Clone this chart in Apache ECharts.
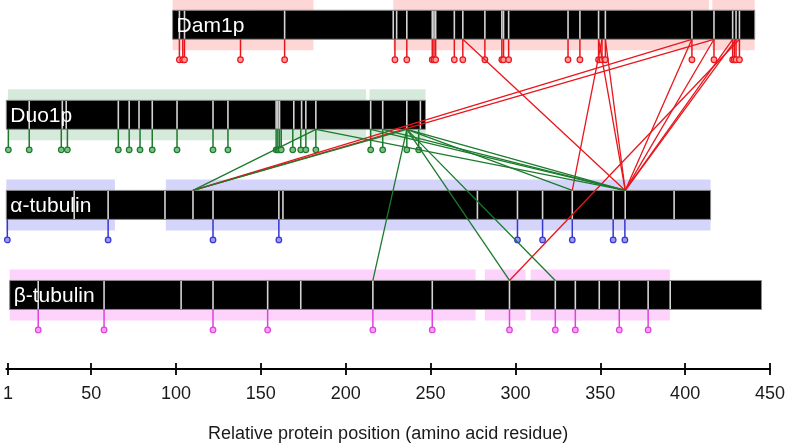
<!DOCTYPE html>
<html><head><meta charset="utf-8">
<script src="https://cdn.jsdelivr.net/npm/echarts@6/dist/echarts.min.js"></script>
<style>html,body{margin:0;padding:0;background:#fff}#c{width:788px;height:448px}</style>
</head><body><div id="c"></div><script>
// ---------- data (residue positions on the relative axis) ----------
const proteins = ['Dam1p', 'Duo1p', 'α-tubulin', 'β-tubulin'];
const proteinStart = [98, 0, 0, 2];
const proteinEnd = [441, 247, 415, 445];

const dam1Regions = [[98, 181], [228, 414], [416, 441]];
const duo1Regions = [[1, 212], [214, 247]];
const tubARegions = [[0, 64], [94, 415]];
const tubBRegions = [[2, 276.5], [282, 306], [309, 391]];

const dam1Sites = [102, 105, 164, 228, 230, 236, 251, 252, 253, 264, 269, 282, 292, 293, 296, 331, 338, 349, 353, 404, 417, 428, 430, 432];
const dam1Stems = [102, 104, 105, 138, 164, 229, 236, 251, 252, 253, 264, 269, 282, 292, 293, 296, 331, 338, 349, 351, 353, 404, 417, 428, 429, 430, 432];
const duo1Sites = [13.5, 33, 35.3, 66, 72.4, 78.2, 86, 100.6, 121.8, 130.6, 159, 160, 161, 169.4, 174, 176.5, 182.4, 214.7, 221.8, 236, 244];
const duo1Stems = [1.2, 13.5, 32.4, 36, 66, 72.4, 78.8, 86, 100.6, 121.8, 130.6, 159, 160, 161, 162, 168.8, 173.5, 176.5, 182.4, 214.7, 221.8, 236, 243];
const tubASites = [40, 60, 93.5, 110, 121.8, 160.6, 163, 277.6, 301.2, 316, 333.5, 357.6, 364.7, 393.5];
const tubAStems = [0.6, 60, 121.8, 160.6, 301.2, 316, 333.5, 357.6, 364.5];
const tubBSites = [18.8, 57.6, 103, 121.8, 154, 173.5, 216, 251, 296.5, 323.5, 335.3, 349.4, 361.2, 378.2, 391.2];
const tubBStems = [18.8, 57.6, 121.8, 154, 216, 251, 296.5, 323.5, 335.3, 361.2, 378.2];

// crosslinks: [source residue, target protein, target residue]
const dam1Links = [
  [404, 'α-tubulin', 110], [417, 'α-tubulin', 110],
  [269, 'α-tubulin', 364.7], [349, 'α-tubulin', 364.7], [353, 'α-tubulin', 364.7],
  [351, 'α-tubulin', 333.5],
  [404, 'α-tubulin', 364.7], [417, 'α-tubulin', 364.7], [428, 'α-tubulin', 364.7], [430, 'α-tubulin', 364.7],
  [432, 'β-tubulin', 296.5]
];
const duo1Links = [
  [182.4, 'α-tubulin', 110], [236, 'α-tubulin', 110],
  [182.4, 'α-tubulin', 364.7], [214.7, 'α-tubulin', 364.7], [221.8, 'α-tubulin', 364.7], [236, 'α-tubulin', 364.7],
  [236, 'α-tubulin', 333.5],
  [236, 'β-tubulin', 216], [236, 'β-tubulin', 296.5], [236, 'β-tubulin', 323.5]
];

const tickValues = [1, 50, 100, 150, 200, 250, 300, 350, 400, 450];
const axisTitle = 'Relative protein position (amino acid residue)';

// ---------- styles ----------
const FONT = "'Liberation Sans', Arial, Helvetica, sans-serif";
const mainColor = ['#e8161c', '#1b7a2c', '#3636d2', '#e040de'];
const dotFill = ['#ff9a9a', '#7fc08a', '#9a9af0', '#f7a0f5'];
const bgColor = ['#ffd6d6', '#d6eadb', '#d5d5fb', '#fdd2fb'];
const BAR_H = 14.5, BG_H = 25.5, STEM_END = 35, DOT_R = 2.8;

// ---------- build series data ----------
const regionSets = [dam1Regions, duo1Regions, tubARegions, tubBRegions];
const siteSets = [dam1Sites, duo1Sites, tubASites, tubBSites];
const stemSets = [dam1Stems, duo1Stems, tubAStems, tubBStems];
const bgData = [], barData = [], siteData = [], stemData = [], redData = [], greenData = [];
proteins.forEach((p, i) => {
  regionSets[i].forEach(r => bgData.push([i, r[0], r[1]]));
  barData.push([i, proteinStart[i], proteinEnd[i]]);
  siteSets[i].forEach(s => siteData.push([i, s]));
  stemSets[i].forEach(s => stemData.push([i, s]));
});
dam1Links.forEach(l => redData.push([0, l[0], proteins.indexOf(l[1]), l[2]]));
duo1Links.forEach(l => greenData.push([1, l[0], proteins.indexOf(l[1]), l[2]]));

function renderBg(params, api) {
  const t = api.value(0);
  const a = api.coord([api.value(1), t]), b = api.coord([api.value(2), t]);
  return { type: 'rect', shape: { x: a[0], y: a[1] - BG_H, width: b[0] - a[0], height: 2 * BG_H },
    style: { fill: bgColor[t] } };
}
function renderBar(params, api) {
  const t = api.value(0);
  const a = api.coord([api.value(1), t]), b = api.coord([api.value(2), t]);
  return { type: 'rect', shape: { x: a[0], y: a[1] - BAR_H, width: b[0] - a[0], height: 2 * BAR_H },
    style: { fill: '#000', stroke: '#8a8a8a', lineWidth: 1 } };
}
function renderSite(params, api) {
  const t = api.value(0);
  const a = api.coord([api.value(1), t]);
  return { type: 'line', shape: { x1: a[0], y1: a[1] - BAR_H + 0.5, x2: a[0], y2: a[1] + BAR_H - 0.5 },
    style: { stroke: '#d4d4d4', lineWidth: 1.6 } };
}
function renderLabel(params, api) {
  const t = api.value(0);
  const a = api.coord([api.value(1), t]);
  return { type: 'text', x: a[0] + 4, y: a[1] + 1,
    style: { text: proteins[t], fill: '#fff', font: '21px ' + FONT, verticalAlign: 'middle', align: 'left' } };
}
function renderStem(params, api) {
  const t = api.value(0);
  const a = api.coord([api.value(1), t]);
  return { type: 'group', children: [
    { type: 'line', shape: { x1: a[0], y1: a[1] + BAR_H, x2: a[0], y2: a[1] + STEM_END },
      style: { stroke: mainColor[t], lineWidth: 1.5 } },
    { type: 'circle', shape: { cx: a[0], cy: a[1] + STEM_END, r: DOT_R },
      style: { fill: dotFill[t], stroke: mainColor[t], lineWidth: 1.2 } }
  ] };
}
function makeLinkRenderer(color) {
  return function (params, api) {
    const a = api.coord([api.value(1), api.value(0)]);
    const b = api.coord([api.value(3), api.value(2)]);
    return { type: 'line', shape: { x1: a[0], y1: a[1] + BAR_H, x2: b[0], y2: b[1] - BAR_H },
      style: { stroke: color, lineWidth: 1.3 } };
  };
}

const chart = echarts.init(document.getElementById('c'), null, { renderer: 'canvas' });
const custom = (data, fn, z) => ({ type: 'custom', data: data, renderItem: fn, clip: false, z: z,
  silent: true, animation: false, encode: { x: 1, y: 0 } });

chart.setOption({
  animation: false,
  backgroundColor: '#fff',
  grid: { left: 5, right: 18, top: 0, bottom: 76, containLabel: false },
  xAxis: [{
    type: 'value', min: 0, max: 450, position: 'bottom',
    axisLine: { show: true, onZero: false, lineStyle: { color: '#000', width: 1.8 } },
    axisTick: { show: true, customValues: tickValues, length: 6, lineStyle: { color: '#000', width: 1.8 } },
    axisLabel: { customValues: tickValues, fontSize: 18, color: '#1a1a1a', margin: 16, fontFamily: FONT },
    splitLine: { show: false },
    name: axisTitle, nameLocation: 'middle', nameGap: 56,
    nameTextStyle: { fontSize: 18, color: '#1a1a1a', fontFamily: FONT }
  }, {
    type: 'value', min: 0, max: 450, position: 'bottom',
    axisLine: { show: false, onZero: false },
    axisTick: { show: true, inside: true, customValues: tickValues, length: 6, lineStyle: { color: '#000', width: 1.8 } },
    axisLabel: { show: false }, splitLine: { show: false }
  }],
  yAxis: { type: 'value', min: -0.275, max: 3.822, inverse: true, show: false },
  series: [
    custom(bgData, renderBg, 1),
    custom(barData, renderBar, 2),
    custom(siteData, renderSite, 3),
    custom(barData, renderLabel, 4),
    custom(stemData, renderStem, 5),
    custom(redData, makeLinkRenderer(mainColor[0]), 6),
    custom(greenData, makeLinkRenderer(mainColor[1]), 7)
  ]
});
</script></body></html>
